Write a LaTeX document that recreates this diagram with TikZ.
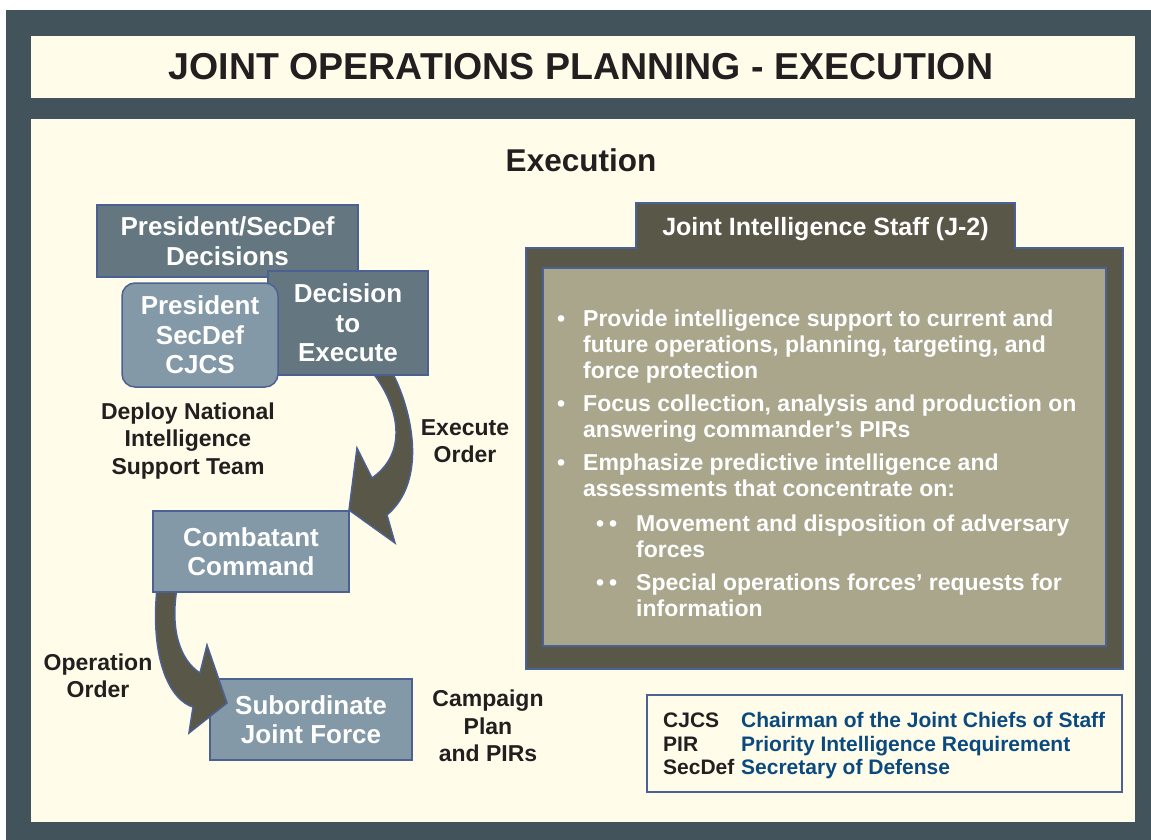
\documentclass[tikz,border=0pt]{standalone}
\usepackage{fontspec}
\setmainfont{Liberation Sans}
\definecolor{framegray}{HTML}{43535B}
\definecolor{cream}{HTML}{FFFDE9}
\definecolor{slatedark}{HTML}{64767F}
\definecolor{slatelight}{HTML}{8499A7}
\definecolor{edgeblue}{HTML}{4B6193}
\definecolor{olive}{HTML}{595748}
\definecolor{khaki}{HTML}{A9A68C}
\definecolor{legendblue}{HTML}{0B4A80}
\definecolor{inkblack}{HTML}{231F20}

\begin{document}
\begin{tikzpicture}[x=1pt, y=-1pt,
    box/.style={draw=edgeblue, line width=1.5pt, text=white, align=center, inner sep=0pt,
      font=\fontsize{26}{29.5}\selectfont\bfseries},
    darkbox/.style={box, fill=slatedark},
    lightbox/.style={box, fill=slatelight},
    notetext/.style={text=inkblack, align=center, inner sep=0pt, font=\fontsize{23}{27.5}\selectfont\bfseries},
    blockarrow/.style={fill=olive, draw=edgeblue, line width=1.5pt, line join=miter},
    bullettext/.style={anchor=base west, text=white, align=left, inner sep=0pt,
      font=\fontsize{23}{26}\selectfont\bfseries},
    abbr/.style={anchor=base west, inner sep=0pt, font=\fontsize{21}{24}\selectfont\bfseries}]
	\useasboundingbox (0,0) rectangle (1151,840);
	\fill[white] (0,0) rectangle (1151,840);
	\fill[framegray] (6,10) rectangle (1151,840);
	\fill[cream] (31,36) rectangle (1135,98);
	\fill[cream] (31,119) rectangle (1135,822);

	\node[text=inkblack, font=\fontsize{37.5}{40}\selectfont\bfseries] (title) at (581,67) {JOINT OPERATIONS PLANNING - EXECUTION};
	\node[text=inkblack, font=\fontsize{31.5}{34}\selectfont\bfseries] (execution) at (581,160) {Execution};

	% execute order arrow
	\path[blockarrow] (372,372) .. controls (395,400) and (412,450) .. (372,478)
		-- (357,448) -- (349,510) -- (395,543) -- (387,515)
		.. controls (428,480) and (412,410) .. (392,372) -- cycle;

	\node[darkbox, minimum width=261pt, minimum height=72pt] (decisions) at (227.5,241) {President/SecDef\\Decisions};
	\node[darkbox, minimum width=160pt, minimum height=104pt] (decide) at (348,323) {Decision\\to\\Execute};
	\node[lightbox, rounded corners=13pt, minimum width=156pt, minimum height=104pt] (leaders) at (200,335) {President\\SecDef\\CJCS};
	\node[lightbox, minimum width=202pt, minimum height=81pt] (subordinate) at (311,719.5) {Subordinate\\Joint Force};

	% operation order arrow
	\path[blockarrow] (157,588) .. controls (150,660) and (170,700) .. (193,707)
		-- (189,733) -- (227,703) -- (207,645) -- (200,673)
		.. controls (180,660) and (170,630) .. (177,588) -- cycle;

	\node[lightbox, minimum width=196pt, minimum height=81pt] (combatant) at (251,551.5) {Combatant\\Command};

	\node[notetext] (deploy) at (188,441) {Deploy National\\Intelligence\\Support Team};
	\node[notetext] (execorder) at (465,441) {Execute\\Order};
	\node[notetext] (oporder) at (98,676) {Operation\\Order};
	\node[notetext] (campaign) at (488,726) {Campaign\\Plan\\and PIRs};

	% J-2 panel
	\path[fill=olive, draw=edgeblue, line width=1.5pt] (526,248) -- (636,248) -- (636,203) -- (1015,203)
		-- (1015,248) -- (1123,248) -- (1123,669) -- (526,669) -- cycle;
	\node[text=white, font=\fontsize{25}{28}\selectfont\bfseries] (j2head) at (825.5,229) {Joint Intelligence Staff (J-2)};
	\path[fill=khaki, draw=edgeblue, line width=2pt] (543,268) rectangle (1106,646);

	% bullets (base = last line)
	\node[bullettext] (dot1) at (557,326) {•};
	\node[bullettext] (item1) at (583,378) {Provide intelligence support to current and\\future operations, planning, targeting, and\\force protection};
	\node[bullettext] (dot2) at (557,411) {•};
	\node[bullettext] (item2) at (583,437) {Focus collection, analysis and production on\\answering commander’s PIRs};
	\node[bullettext] (dot3) at (557,470) {•};
	\node[bullettext] (item3) at (583,496) {Emphasize predictive intelligence and\\assessments that concentrate on:};
	\node[bullettext] (dot4) at (596,531) {•\kern5pt•};
	\node[bullettext] (item4) at (636,557) {Movement and disposition of adversary\\forces};
	\node[bullettext] (dot5) at (596,590) {•\kern5pt•};
	\node[bullettext] (item5) at (636,616) {Special operations forces’ requests for\\information};

	% legend
	\path[fill=cream, draw=edgeblue, line width=2pt] (647,695) rectangle (1122,792);
	\node[abbr, text=inkblack] (cjcs) at (663,727) {CJCS};
	\node[abbr, text=inkblack] (pir) at (663,751) {PIR};
	\node[abbr, text=inkblack] (secdef) at (663,774) {SecDef};
	\node[abbr, text=legendblue] (cjcsdef) at (741,727) {Chairman of the Joint Chiefs of Staff};
	\node[abbr, text=legendblue] (pirdef) at (741,751) {Priority Intelligence Requirement};
	\node[abbr, text=legendblue] (secdefdef) at (741,774) {Secretary of Defense};
\end{tikzpicture}
\end{document}
